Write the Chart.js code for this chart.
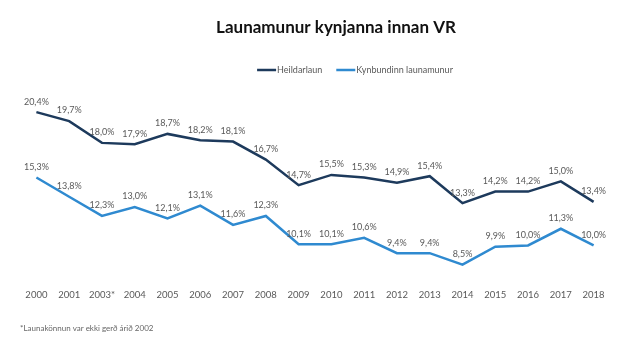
<!DOCTYPE html>
<html><head><meta charset="utf-8">
<script src="https://cdn.jsdelivr.net/npm/chart.js@4"></script>
<style>html,body{margin:0;padding:0;background:#fff}#c{display:block}</style>
</head><body>
<div style="width:640px;height:356px"><canvas id="c" width="640" height="356"></canvas></div>
<script>
const categories = ['2000','2001','2003*','2004','2005','2006','2007','2008','2009','2010','2011','2012','2013','2014','2015','2016','2017','2018'];
const heildarlaun = [20.4,19.7,18.0,17.9,18.7,18.2,18.1,16.7,14.7,15.5,15.3,14.9,15.4,13.3,14.2,14.2,15.0,13.4];
const kynbundinn = [15.3,13.8,12.3,13.0,12.1,13.1,11.6,12.3,10.1,10.1,10.6,9.4,9.4,8.5,9.9,10.0,11.3,10.0];
const seriesNames = ['Heildarlaun','Kynbundinn launamunur'];
const titleText = 'Launamunur kynjanna innan VR';
const footnote = '*Launakönnun var ekki gerð árið 2002';

const FONT = "Lato, 'Open Sans', sans-serif";

const headerPlugin = {
  id: 'header',
  afterDraw(chart) {
    const ctx = chart.ctx;
    ctx.save();
    // title
    ctx.font = "bold 17px " + FONT;
    ctx.fillStyle = '#111';
    ctx.textAlign = 'center';
    ctx.textBaseline = 'middle';
    ctx.fillText(titleText, 336, 28);
    // legend
    ctx.font = "9px " + FONT;
    const sw = 19, gap = 14;
    const items = chart.data.datasets.map(ds => ({ text: ds.label, color: ds.borderColor, w: ctx.measureText(ds.label).width }));
    const total = items.reduce((s, it) => s + sw + 1 + it.w, 0) + gap * (items.length - 1);
    let x = 355 - total / 2;
    const y = 70;
    items.forEach(it => {
      ctx.strokeStyle = it.color;
      ctx.lineWidth = 2.5;
      ctx.beginPath(); ctx.moveTo(x, y); ctx.lineTo(x + sw, y); ctx.stroke();
      ctx.fillStyle = '#595959';
      ctx.textAlign = 'left';
      ctx.fillText(it.text, x + sw + 1, y);
      x += sw + 1 + it.w + gap;
    });
    ctx.restore();
  }
};

const labelPlugin = {
  id: 'pointLabels',
  afterDatasetsDraw(chart) {
    const ctx = chart.ctx;
    ctx.save();
    ctx.font = "9px " + FONT;
    ctx.fillStyle = '#595959';
    ctx.textAlign = 'center';
    ctx.textBaseline = 'bottom';
    chart.data.datasets.forEach((ds, di) => {
      chart.getDatasetMeta(di).data.forEach((pt, i) => {
        const t = ds.data[i].toFixed(1).replace('.', ',') + '%';
        ctx.fillText(t, pt.x, pt.y - 6);
      });
    });
    ctx.restore();
  }
};

new Chart(document.getElementById('c'), {
  type: 'line',
  data: {
    labels: categories,
    datasets: [
      { label: seriesNames[0], data: heildarlaun, borderColor: '#1d3a5c', backgroundColor: '#1d3a5c', borderWidth: 2.5, pointRadius: 0, tension: 0 },
      { label: seriesNames[1], data: kynbundinn, borderColor: '#2f8ad0', backgroundColor: '#2f8ad0', borderWidth: 2.5, pointRadius: 0, tension: 0 }
    ]
  },
  options: {
    responsive: false,
    animation: false,
    layout: { padding: { top: 91.6, left: 20, right: 30, bottom: 23 } },
    plugins: {
      title: { display: false },
      subtitle: { display: true, text: footnote, position: 'bottom', align: 'start', color: '#666', font: { family: FONT, size: 8 }, padding: { top: 20, bottom: 0 } },
      legend: { display: false },
      tooltip: { enabled: false }
    },
    scales: {
      x: { offset: true, grid: { display: false }, border: { display: false }, ticks: { color: '#595959', font: { family: FONT, size: 9.5 }, padding: 3, maxRotation: 0, autoSkip: false } },
      y: { display: false, min: 7.46, max: 22.0 }
    }
  },
  plugins: [labelPlugin, headerPlugin]
});
</script>
</body></html>
